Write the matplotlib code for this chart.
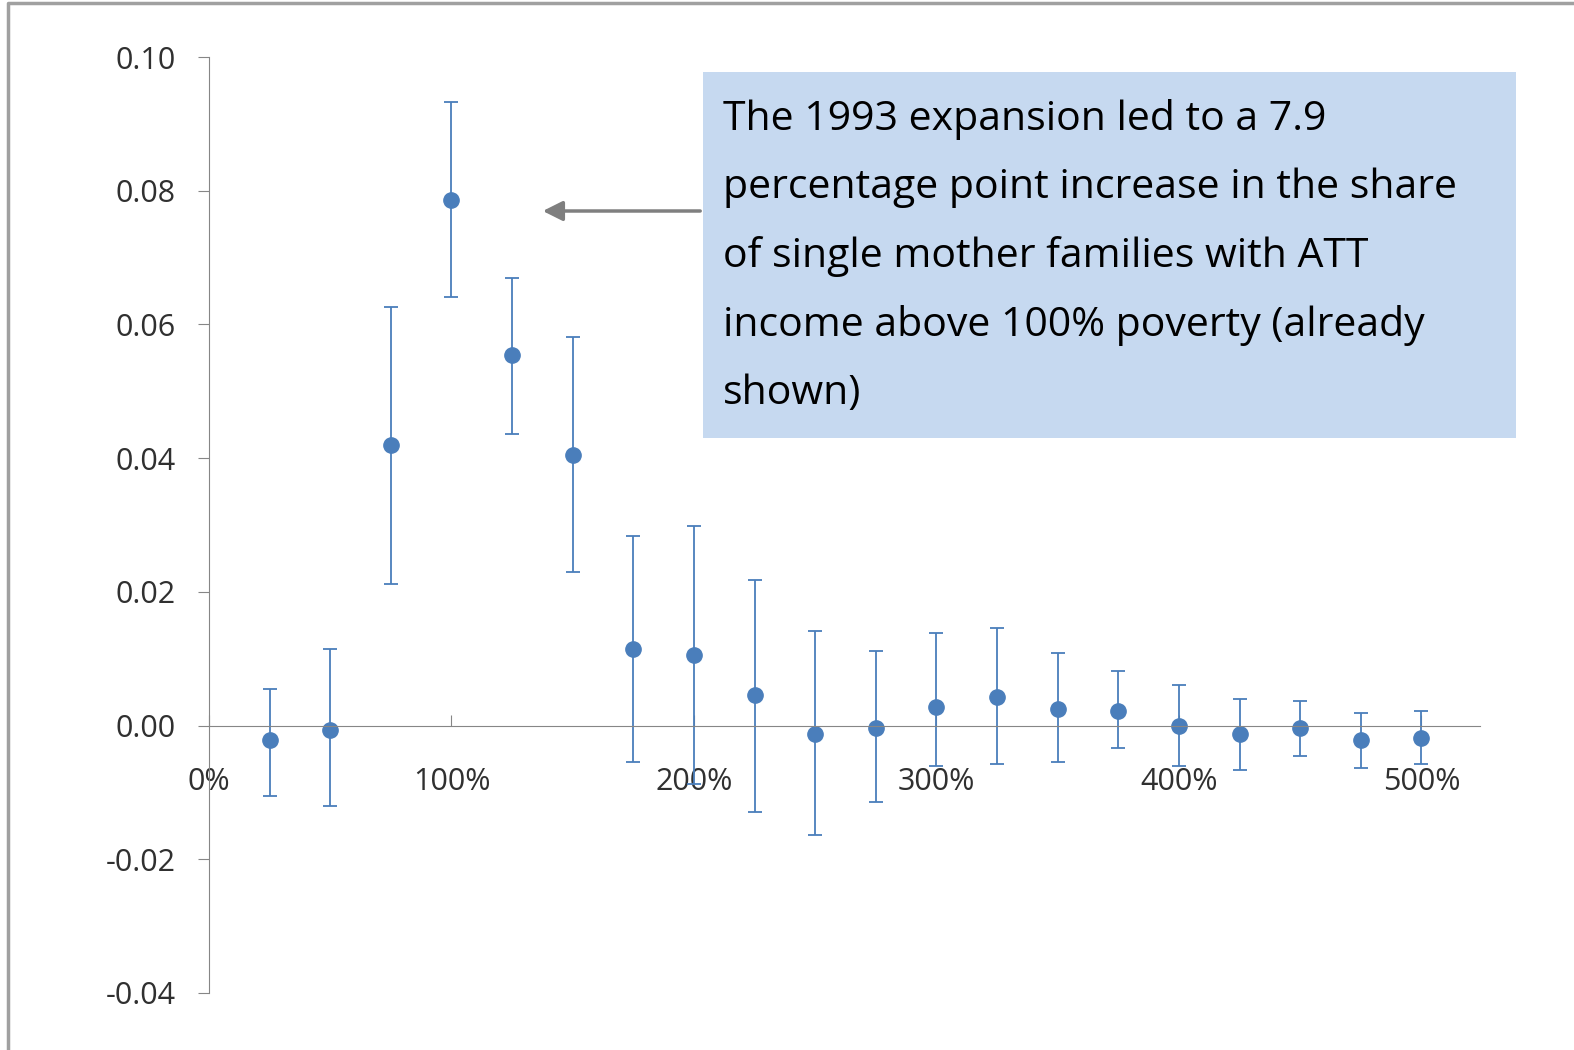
import numpy as np
import matplotlib.pyplot as plt
from matplotlib.patches import Rectangle
from matplotlib.lines import Line2D

# income as % of poverty line
pov = [25, 50, 75, 100, 125, 150, 175, 200, 225, 250, 275, 300, 325, 350, 375, 400, 425, 450, 475, 500]
est = [-0.0022, -0.0006, 0.0419, 0.0786, 0.0555, 0.0405, 0.0114, 0.0106, 0.0045, -0.0013,
       -0.0003, 0.0028, 0.0043, 0.0025, 0.0022, 0.0000, -0.0013, -0.0003, -0.0021, -0.0018]
hi = [0.0055, 0.0114, 0.0626, 0.0933, 0.0670, 0.0581, 0.0284, 0.0299, 0.0218, 0.0142,
      0.0111, 0.0139, 0.0146, 0.0108, 0.0082, 0.0061, 0.0040, 0.0037, 0.0019, 0.0022]
lo = [-0.0106, -0.0121, 0.0212, 0.0641, 0.0436, 0.0230, -0.0054, -0.0087, -0.0129, -0.0164,
      -0.0115, -0.0060, -0.0058, -0.0054, -0.0034, -0.0060, -0.0066, -0.0045, -0.0063, -0.0058]
note = ("The 1993 expansion led to a 7.9\npercentage point increase in the share\n"
        "of single mother families with ATT\nincome above 100% poverty (already\nshown)")

blue = '#4a7ebb'
est, hi, lo = np.array(est), np.array(hi), np.array(lo)

fig = plt.figure(figsize=(15.74, 10.5), dpi=100)
ax = fig.add_axes([0.1328, 0.0543, 0.8072, 0.8914])
ax.errorbar(pov, est, yerr=[est - lo, hi - est], fmt='o', color=blue, ms=11,
            ecolor=blue, elinewidth=1.3, capsize=5, capthick=1.3)

ax.set_xlim(0, 524)
ax.set_ylim(-0.04, 0.10)
ax.set_yticks(np.arange(-0.04, 0.101, 0.02))
ax.set_yticklabels(['-0.04', '-0.02', '0.00', '0.02', '0.04', '0.06', '0.08', '0.10'])
ax.set_xticks(range(0, 501, 100))
ax.set_xticklabels([f'{v}%' for v in range(0, 501, 100)])
for s in ['top', 'right']:
    ax.spines[s].set_visible(False)
ax.spines['bottom'].set_position(('data', 0))
ax.spines['bottom'].set_color('#868686')
ax.spines['left'].set_color('#868686')
ax.tick_params(axis='y', length=8, color='#868686', labelsize=22, pad=16, colors='#303030')
ax.tick_params(axis='x', length=8, color='#868686', labelsize=22, direction='in', pad=30, colors='#303030')
for t in ax.get_xticklabels() + ax.get_yticklabels():
    t.set_family('Open Sans')

# callout box and arrow (figure pixel coordinates)
W, H = 1574, 1050
fig.patches.append(Rectangle((703 / W, 1 - 438 / H), 813 / W, 366 / H,
                             transform=fig.transFigure, facecolor='#c6d9f0', edgecolor='none'))
fig.text(723 / W, 1 - 99 / H, note, fontsize=29.5, family='Open Sans', va='top', ha='left',
         linespacing=1.9, color='black')
ax.annotate('', xy=(540 / W, 1 - 211 / H), xytext=(703 / W, 1 - 211 / H),
            xycoords='figure fraction', textcoords='figure fraction',
            arrowprops=dict(arrowstyle='-|>', color='#7f7f7f', lw=2.5, mutation_scale=30))

# outer frame
fig.add_artist(Line2D([8 / W, 8 / W, 1], [0, 1 - 3 / H, 1 - 3 / H], transform=fig.transFigure,
                      color='#a0a0a0', lw=2.5))

fig.savefig('out.png', dpi=100)
